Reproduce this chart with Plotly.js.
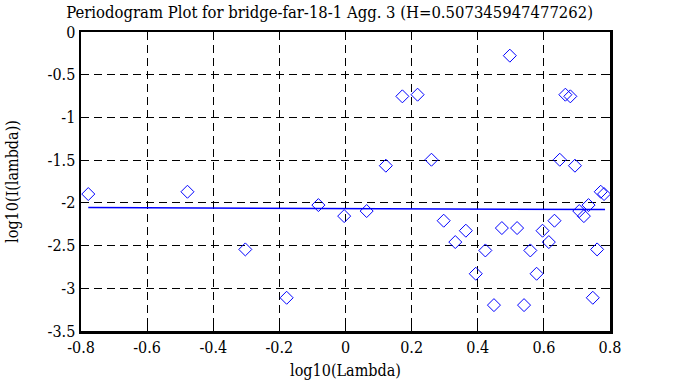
<!DOCTYPE html>
<html>
<head>
<meta charset="utf-8">
<script src="https://cdn.plot.ly/plotly-3.0.1.min.js"></script>
<style>html,body{margin:0;padding:0;background:#fff;}#chart{width:678px;height:387px;}</style>
</head>
<body>
<div id="chart"></div>
<script>
// Periodogram points: log10(lambda), log10(I(lambda))
var logLambda = [-0.778, -0.478, -0.303, -0.178, -0.082, -0.004, 0.064, 0.122, 0.172, 0.218,
  0.260, 0.297, 0.332, 0.364, 0.394, 0.423, 0.449, 0.473, 0.497, 0.519,
  0.540, 0.559, 0.578, 0.596, 0.615, 0.632, 0.648, 0.665, 0.680, 0.694,
  0.707, 0.721, 0.735, 0.748, 0.761, 0.772, 0.782];
var logI = [-1.897, -1.870, -2.545, -3.111, -2.026, -2.155, -2.096, -1.565, -0.753, -0.734,
  -1.495, -2.209, -2.459, -2.326, -2.830, -2.557, -3.197, -2.295, -0.277, -2.295,
  -3.197, -2.557, -2.830, -2.326, -2.459, -2.209, -1.495, -0.734, -0.753, -1.565,
  -2.096, -2.155, -2.026, -3.111, -2.545, -1.870, -1.897];
// Fitted line endpoints
var fitX = [-0.778, 0.785];
var fitY = [-2.055, -2.078];
var xTicks = [-0.8, -0.6, -0.4, -0.2, 0, 0.2, 0.4, 0.6, 0.8];
var xTickText = ['-0.8', '-0.6', '-0.4', '-0.2', '0', '0.2', '0.4', '0.6', '0.8'];
var yTicks = [0, -0.5, -1, -1.5, -2, -2.5, -3, -3.5];
var yTickText = ['0', '-0.5', '-1', '-1.5', '-2', '-2.5', '-3', '-3.5'];
var titleText = 'Periodogram Plot for bridge-far-18-1 Agg. 3 (H=0.507345947477262)';

var font = '"DejaVu Serif Condensed", "DejaVu Serif", serif';
var traces = [
  {x: fitX, y: fitY, type: 'scatter', mode: 'lines', line: {color: '#0000ff', width: 1.5}, hoverinfo: 'skip'},
  {x: logLambda, y: logI, type: 'scatter', mode: 'markers',
   marker: {symbol: 'diamond-open', size: 10, color: '#0000ff', line: {width: 1, color: '#0000ff'}}}
];
var axisCommon = {
  showline: true, linecolor: '#000', linewidth: 2.5, mirror: 'ticks',
  ticks: 'inside', ticklen: 7, tickwidth: 1, tickcolor: '#000',
  showgrid: true, gridcolor: '#000', gridwidth: 1, griddash: '8px,5px',
  zeroline: false, tickfont: {family: font, size: 16, color: '#000'}
};
var layout = {
  width: 678, height: 387,
  margin: {l: 81, r: 68, t: 32, b: 56},
  paper_bgcolor: '#fff', plot_bgcolor: '#fff',
  showlegend: false,
  title: {text: titleText, font: {family: font, size: 16.5, color: '#000'}, x: 0.47, xanchor: 'center', xref: 'paper', y: 0.984, yanchor: 'top', yref: 'container'},
  xaxis: Object.assign({}, axisCommon, {range: [-0.8, 0.8], tickvals: xTicks, ticktext: xTickText,
    title: {text: 'log10(Lambda)', font: {family: font, size: 16, color: '#000'}, standoff: 9}}),
  yaxis: Object.assign({}, axisCommon, {range: [-3.5, 0], tickvals: yTicks, ticktext: yTickText,
    title: {text: 'log10(I(lambda))', font: {family: font, size: 16, color: '#000'}, standoff: 25}})
};
Plotly.newPlot('chart', traces, layout, {displayModeBar: false, staticPlot: true});
</script>
</body>
</html>
